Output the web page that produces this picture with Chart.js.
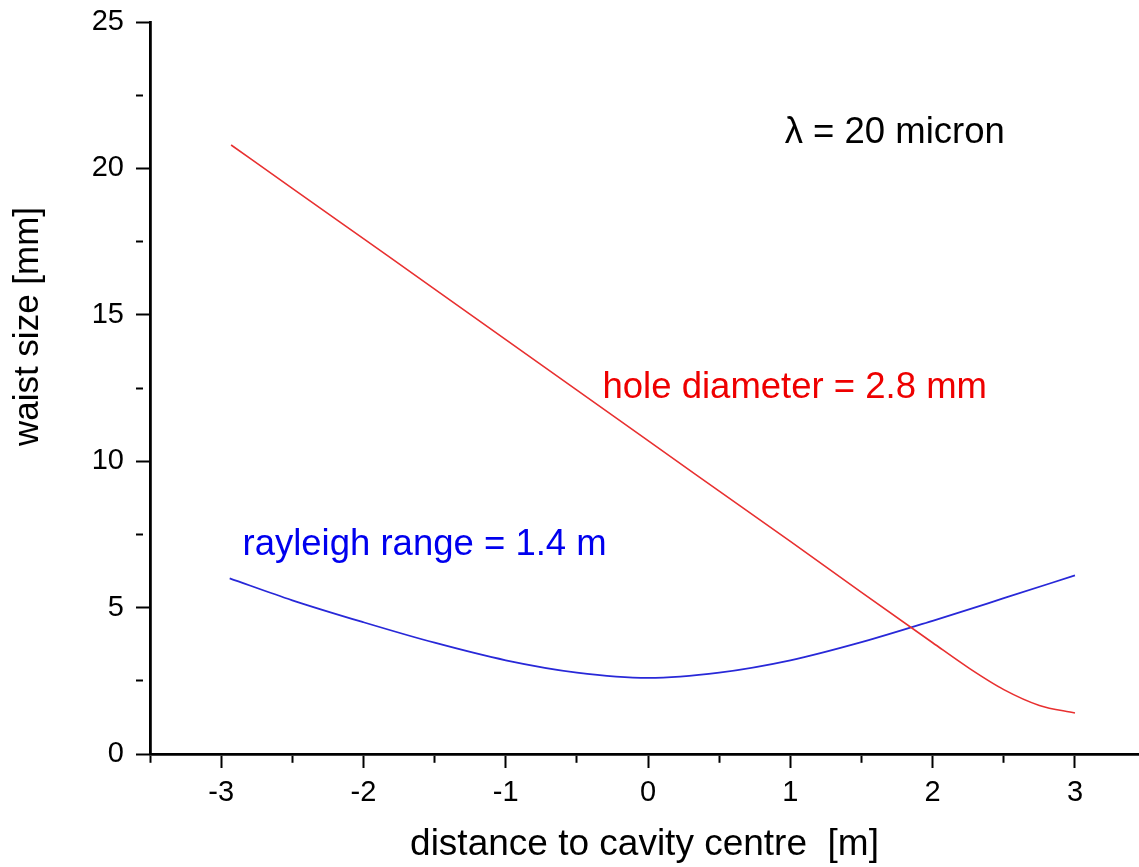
<!DOCTYPE html>
<html lang="en">

<head>
  <meta charset="UTF-8">
  <title>Waist size vs distance</title>
  <script src="https://cdn.jsdelivr.net/npm/chart.js"></script>
  <style>
    html, body { margin: 0; padding: 0; background: #fff; overflow: hidden; }
    .chart-container { position: relative; width: 1139px; height: 867px; }
  </style>
</head>

<body>
  <div class="chart-container">
    <canvas id="chartWaist"></canvas>
  </div>

  <script>
    // values
    const holeX = [-2.93, -2.5, -2, -1.5, -1, -0.5, 0, 0.5, 1, 1.5, 2, 2.25, 2.5, 2.75, 3];
    const holeDiameter = [20.8, 19.32, 17.6, 15.88, 14.15, 12.43, 10.7, 8.98, 7.26, 5.52, 3.8, 2.95, 2.2, 1.66, 1.4];

    const rayleighX = [-2.94, -2.5, -2, -1.5, -1, -0.5, 0, 0.5, 1, 1.5, 2, 2.5, 3];
    const rayleighWaist = [6.0, 5.25, 4.5, 3.8, 3.2, 2.78, 2.6, 2.78, 3.2, 3.82, 4.55, 5.32, 6.1];

    const xTicks = [-3.5, -3, -2.5, -2, -1.5, -1, -0.5, 0, 0.5, 1, 1.5, 2, 2.5, 3];
    const yTicks = [0, 2.5, 5, 7.5, 10, 12.5, 15, 17.5, 20, 22.5, 25];

    const labels = [
      { text: 'λ = 20 micron', x: 0.96, y: 21.2, color: '#000000' },
      { text: 'hole diameter = 2.8 mm', x: -0.32, y: 12.5, color: '#ee0000' },
      { text: 'rayleigh range = 1.4 m', x: -2.85, y: 7.14, color: '#0000ee' }
    ];

    const yTitle = 'waist size [mm]';

    const FONT = "'Liberation Sans', Arial, sans-serif";

    const isMajor = v => Number.isInteger(v);

    // text labels placed in data coordinates, plus the y axis title
    const textPlugin = {
      id: 'textLabels',
      afterDatasetsDraw(chart) {
        const { ctx, scales } = chart;
        ctx.save();
        ctx.font = '36.5px ' + FONT;
        ctx.textAlign = 'left';
        ctx.textBaseline = 'middle';
        labels.forEach(l => {
          ctx.fillStyle = l.color;
          ctx.fillText(l.text, scales.x.getPixelForValue(l.x), scales.y.getPixelForValue(l.y));
        });

        ctx.font = '35px ' + FONT;
        ctx.fillStyle = '#000';
        ctx.textAlign = 'center';
        ctx.translate(scales.y.left + 28, scales.y.getPixelForValue(14.6));
        ctx.rotate(-Math.PI / 2);
        ctx.fillText(yTitle, 0, 0);
        ctx.restore();
      }
    };

    function axisGrid() {
      return {
        drawOnChartArea: false,
        color: '#000',
        tickLength: 14,
        tickWidth: 2,
        tickColor: '#000',
        tickBorderDash: c => (c.tick && isMajor(c.tick.value)) ? [] : [7, 100]
      };
    }

    new Chart(document.getElementById('chartWaist').getContext('2d'), {
      type: 'line',
      data: {
        datasets: [{
          label: 'hole diameter',
          data: holeX.map((x, i) => ({ x: x, y: holeDiameter[i] })),
          borderColor: '#e83030',
          borderWidth: 1.6,
          pointRadius: 0,
          cubicInterpolationMode: 'monotone'
        }, {
          label: 'rayleigh range',
          data: rayleighX.map((x, i) => ({ x: x, y: rayleighWaist[i] })),
          borderColor: '#2828d8',
          borderWidth: 1.8,
          pointRadius: 0,
          cubicInterpolationMode: 'monotone'
        }]
      },
      options: {
        responsive: true,
        maintainAspectRatio: false,
        animation: false,
        layout: { padding: { top: 22, right: 0, left: 0, bottom: 0 } },
        plugins: {
          legend: { display: false },
          tooltip: { enabled: false }
        },
        scales: {
          x: {
            type: 'linear',
            min: -3.5,
            max: 3.45,
            afterBuildTicks: s => { s.ticks = xTicks.map(v => ({ value: v })); },
            afterFit: s => { s.height = 113; s.paddingRight = 0; s.paddingLeft = 0; },
            grid: axisGrid(),
            border: { display: true, color: '#000', width: 2.8 },
            ticks: {
              color: '#000',
              padding: 8,
              maxRotation: 0,
              autoSkip: false,
              font: { family: FONT, size: 29 },
              callback: v => isMajor(v) ? String(v) : ''
            },
            title: {
              display: true,
              text: 'distance to cavity centre  [m]',
              color: '#000',
              font: { family: FONT, size: 37 },
              padding: { top: -6, bottom: 0 }
            }
          },
          y: {
            min: 0,
            max: 25,
            afterBuildTicks: s => { s.ticks = yTicks.map(v => ({ value: v })); },
            afterFit: s => { s.width = 150; s.paddingTop = 0; s.paddingBottom = 0; },
            grid: axisGrid(),
            border: { display: true, color: '#000', width: 2.8 },
            ticks: {
              color: '#000',
              padding: 12,
              autoSkip: false,
              font: { family: FONT, size: 29 },
              callback: v => (v % 5 === 0) ? String(v) : ''
            },
            title: { display: false }
          }
        }
      },
      plugins: [textPlugin]
    });
  </script>
</body>

</html>
